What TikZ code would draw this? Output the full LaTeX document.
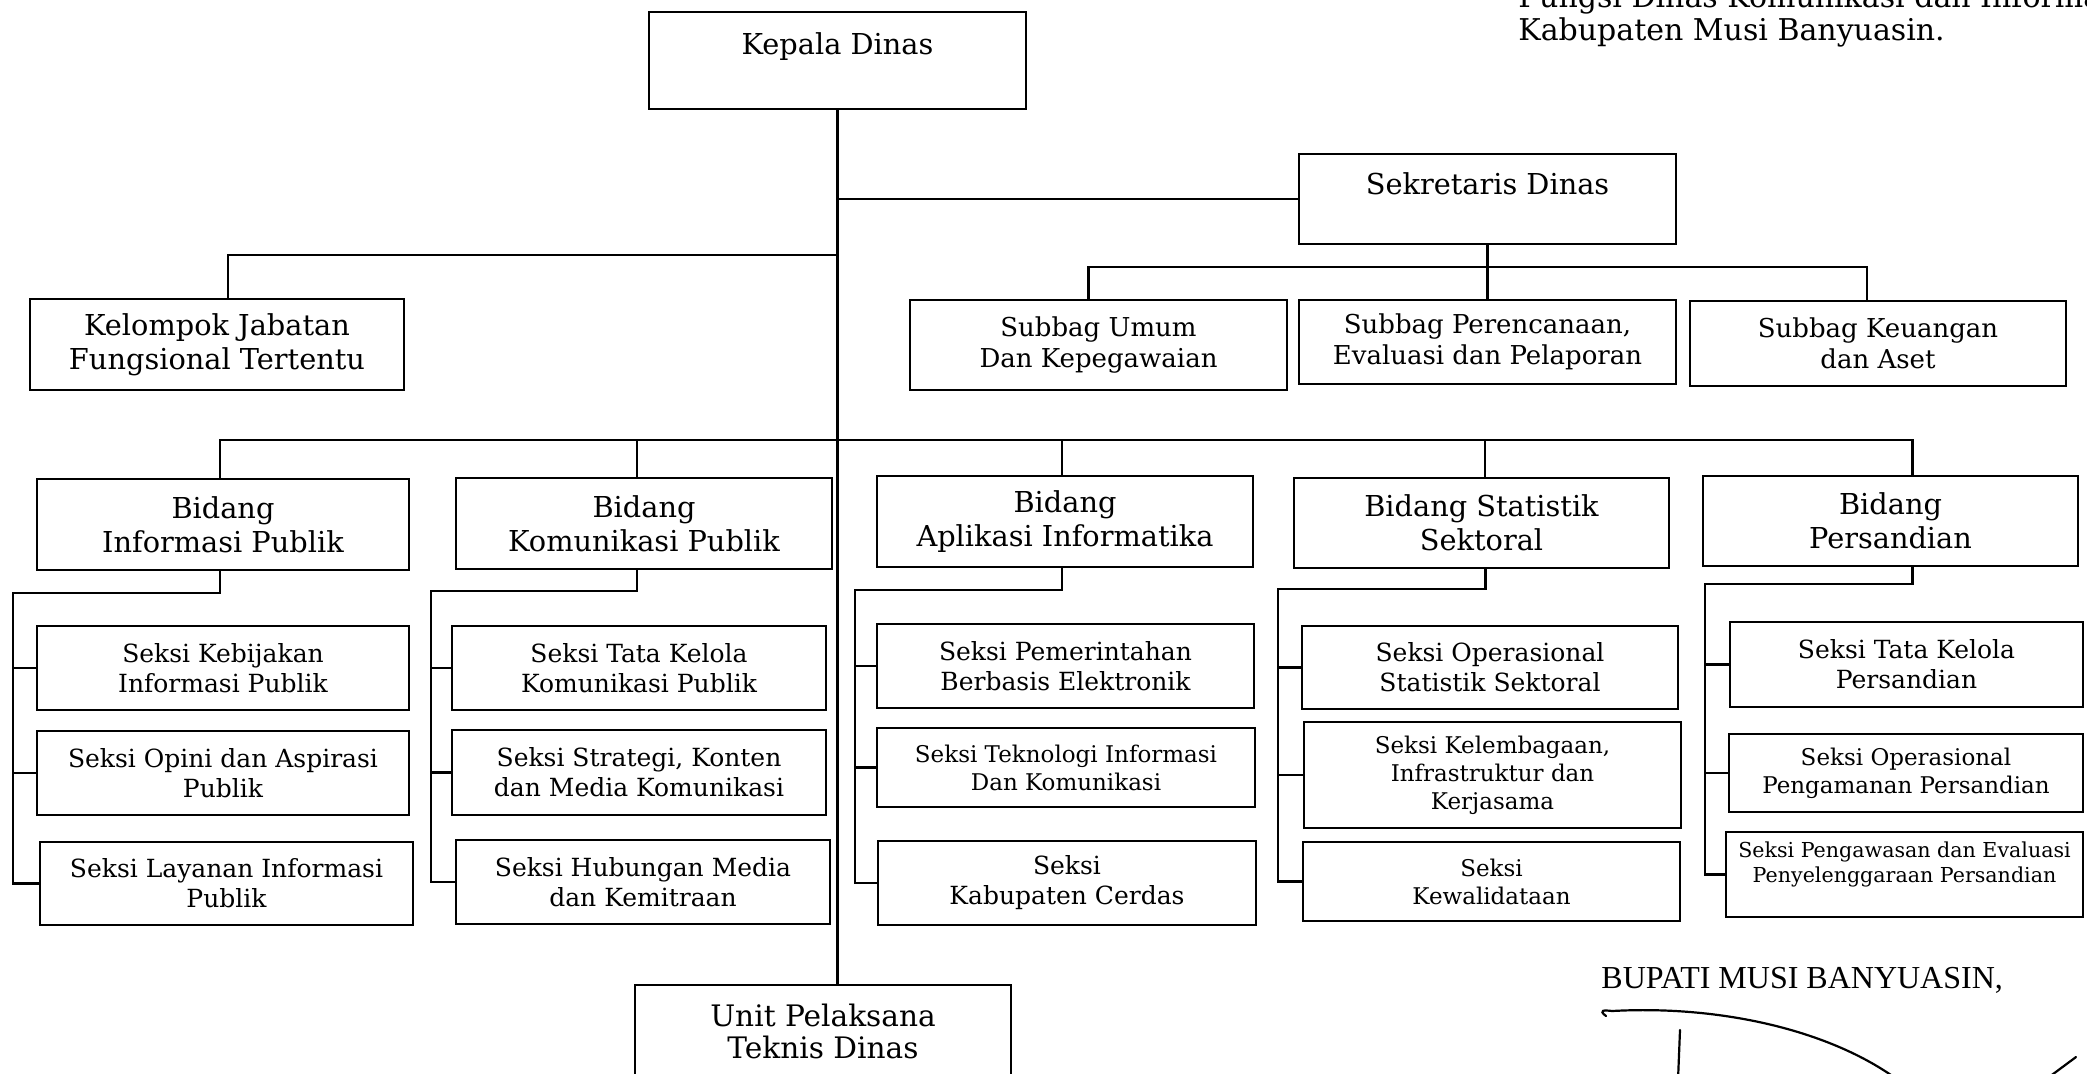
\documentclass[tikz,border=0pt]{standalone}
\usepackage{fontspec}
\newfontfamily\bk{DejaVu Serif}
\newfontfamily\tms{Liberation Serif}
\newcommand\fntBig{\bk\fontsize{14.4}{17}\selectfont}
\newcommand\fntUnit{\bk\fontsize{14.8}{16}\selectfont}
\newcommand\fntSub{\bk\fontsize{13}{15.5}\selectfont}
\newcommand\fntSek{\bk\fontsize{12.5}{15}\selectfont}
\newcommand\fntSm{\bk\fontsize{11.5}{14}\selectfont}
\newcommand\fntTiny{\bk\fontsize{10.3}{12.5}\selectfont}
\newcommand\fntTop{\bk\fontsize{15}{16}\selectfont}
\newcommand\obox[7]{%
  \node[ob, font=#6, minimum width={(#4-#2)*0.5pt}, minimum height={(#5-#3)*0.5pt}]
    (#1) at ({(#2+#4)/2},{(#3+#5)/2}) {#7};}
\begin{document}
\begin{tikzpicture}[x=0.5pt,y=-0.5pt,
  ob/.style={draw,line width=1.2pt,inner sep=0pt,align=center},
  ln/.style={line width=1.1pt},
  sig/.style={line width=1.1pt,line cap=round}]
\useasboundingbox (0,0) rectangle (2087,1073);
\fill[white] (0,0) rectangle (2087,1073);

% top text (cut at the top edge, as in the reference)
\node[anchor=base west,inner sep=0pt,font=\fntTop] (fung) at (1518,7) {Fungsi Dinas Komunikasi dan Informatika};
\node[anchor=base west,inner sep=0pt,font=\fntTop] (kab) at (1518,40) {Kabupaten Musi Banyuasin.};

% head boxes
\node[ob,font=\fntBig,minimum width={377*0.5pt},anchor=north] (kepala) at (837.5,11)
  {\rule[-27.5pt]{0pt}{48.5pt}Kepala Dinas};
\node[ob,font=\fntBig,minimum width={377*0.5pt},anchor=north] (sekre) at (1487.5,153)
  {\rule[-25pt]{0pt}{45pt}Sekretaris Dinas};
\node[ob,font=\fntUnit,minimum width={376*0.5pt},anchor=north] (unit) at (823,984)
  {\rule{0pt}{20.5pt}Unit Pelaksana\\Teknis Dinas\rule[-35pt]{0pt}{0pt}};

\obox{kelompok}{30}{299}{404}{390}{\fntBig}{Kelompok Jabatan\\Fungsional Tertentu}
\obox{umum}{910}{300}{1287}{390}{\fntSub}{Subbag Umum\\Dan Kepegawaian}
\obox{renc}{1299}{300}{1676}{384}{\fntSub}{Subbag Perencanaan,\\Evaluasi dan Pelaporan}
\obox{keu}{1690}{301}{2066}{386}{\fntSub}{Subbag Keuangan\\dan Aset}

% bidang
\obox{binf}{37}{479}{409}{570}{\fntBig}{Bidang\\Informasi Publik}
\obox{bkom}{456}{478}{832}{569}{\fntBig}{Bidang\\Komunikasi Publik}
\obox{bapl}{877}{476}{1253}{567}{\fntBig}{Bidang\\Aplikasi Informatika}
\obox{bsta}{1294}{478}{1669}{568}{\fntBig}{Bidang Statistik\\Sektoral}
\obox{bper}{1703}{476}{2078}{566}{\fntBig}{Bidang\\Persandian}

% seksi
\obox{s11}{37}{626}{409}{710}{\fntSek}{Seksi Kebijakan\\Informasi Publik}
\obox{s12}{37}{731}{409}{815}{\fntSek}{Seksi Opini dan Aspirasi\\Publik}
\obox{s13}{40}{842}{413}{925}{\fntSek}{Seksi Layanan Informasi\\Publik}
\obox{s21}{452}{626}{826}{710}{\fntSek}{Seksi Tata Kelola\\Komunikasi Publik}
\obox{s22}{452}{730}{826}{815}{\fntSek}{Seksi Strategi, Konten\\dan Media Komunikasi}
\obox{s23}{456}{840}{830}{924}{\fntSek}{Seksi Hubungan Media\\dan Kemitraan}
\obox{s31}{877}{624}{1254}{708}{\fntSek}{Seksi Pemerintahan\\Berbasis Elektronik}
\obox{s32}{877}{728}{1255}{807}{\fntSm}{Seksi Teknologi Informasi\\Dan Komunikasi}
\obox{s33}{878}{841}{1256}{925}{\fntSek}{Seksi\\Kabupaten Cerdas}
\obox{s41}{1302}{626}{1678}{709}{\fntSek}{Seksi Operasional\\Statistik Sektoral}
\obox{s42}{1304}{722}{1681}{828}{\fntSm}{Seksi Kelembagaan,\\Infrastruktur dan\\Kerjasama}
\obox{s43}{1303}{842}{1680}{921}{\fntSm}{Seksi\\Kewalidataan}
\obox{s51}{1730}{622}{2083}{707}{\fntSek}{Seksi Tata Kelola\\Persandian}
\obox{s52}{1729}{734}{2083}{812}{\fntSm}{Seksi Operasional\\Pengamanan Persandian}
\obox{s53}{1726}{832}{2083}{917}{\fntTiny}{Seksi Pengawasan dan Evaluasi\\Penyelenggaraan Persandian\rule[-12pt]{0pt}{0pt}}

% connectors: trunk and top level
\coordinate (jk) at (837,255);
\coordinate (sb) at (1088,267);
\coordinate (bb) at (837,440);
\draw[ln] (kepala.south) -- (kepala.south |- unit.north);
\draw[ln] (kepala.south |- sekre.west) -- (sekre.west);
\draw[ln] (kepala.south |- jk) -| ([xshift=5.5pt]kelompok.north);
\draw[ln] (sekre.south) -- (renc.north);
\draw[ln] ([xshift=-5pt]umum.north) |- ([xshift=-5.5pt]keu.north |- sb) -- ([xshift=-5.5pt]keu.north);

% bidang bus
\draw[ln] ([xshift=-1.5pt]binf.north) |- ([xshift=11pt]bper.north |- bb) -- ([xshift=11pt]bper.north);
\draw[ln] ([xshift=-3.5pt]bkom.north) -- ([xshift=-3.5pt]bkom.north |- bb);
\draw[ln] ([xshift=-1.5pt]bapl.north) -- ([xshift=-1.5pt]bapl.north |- bb);
\draw[ln] ([xshift=1.75pt]bsta.north) -- ([xshift=1.75pt]bsta.north |- bb);

% sub columns
\coordinate (v1) at (13,593);
\coordinate (v2) at (431,591);
\coordinate (v3) at (855,590);
\coordinate (v4) at (1278,589);
\coordinate (v5) at (1705,584);
\draw[ln] ([xshift=-1.5pt]binf.south) |- (v1) |- (s13.west);
\draw[ln] (v1 |- s11.west) -- (s11.west);
\draw[ln] (v1 |- s12.west) -- (s12.west);
\draw[ln] ([xshift=-3.5pt]bkom.south) |- (v2) |- (s23.west);
\draw[ln] (v2 |- s21.west) -- (s21.west);
\draw[ln] (v2 |- s22.west) -- (s22.west);
\draw[ln] ([xshift=-1.5pt]bapl.south) |- (v3) |- (s33.west);
\draw[ln] (v3 |- s31.west) -- (s31.west);
\draw[ln] (v3 |- s32.west) -- (s32.west);
\draw[ln] ([xshift=2pt]bsta.south) |- (v4) |- (s43.west);
\draw[ln] (v4 |- s41.west) -- (s41.west);
\draw[ln] (v4 |- s42.west) -- (s42.west);
\draw[ln] ([xshift=11pt]bper.south) |- (v5) |- (s53.west);
\draw[ln] (v5 |- s51.west) -- (s51.west);
\draw[ln] (v5 |- s52.west) -- (s52.west);

% signature block
\node[anchor=base west,inner sep=0pt,font=\tms\fontsize{16}{18}\selectfont] (bupati) at (1601,988) {BUPATI MUSI BANYUASIN,};
\draw[sig] (1606,1016) .. controls (1598,1010) and (1604,1010) .. (1612,1011)
  .. controls (1720,1005) and (1830,1030) .. (1898,1080);
\draw[sig] (1680,1030) -- (1678,1080);
\draw[sig] (2045,1080) -- (2076,1057);
\end{tikzpicture}
\end{document}
